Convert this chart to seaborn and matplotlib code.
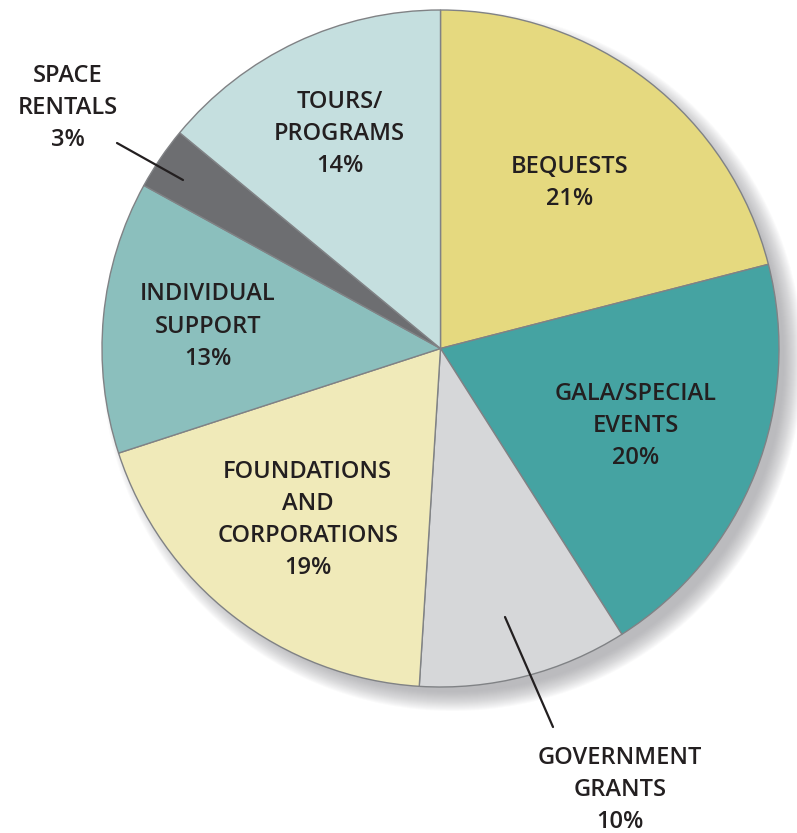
import numpy as np
import matplotlib
matplotlib.use("Agg")
import matplotlib.pyplot as plt
import seaborn as sns
from matplotlib.patches import Circle

sns.set_theme(style="white")
plt.rcParams["font.family"] = ["Open Sans", "DejaVu Sans"]

# Dados do gráfico (sentido horário a partir do topo)
categorias = ["BEQUESTS", "GALA/SPECIAL\nEVENTS", "GOVERNMENT\nGRANTS",
              "FOUNDATIONS\nAND\nCORPORATIONS", "INDIVIDUAL\nSUPPORT",
              "SPACE\nRENTALS", "TOURS/\nPROGRAMS"]
valores = [21, 20, 10, 19, 13, 3, 14]
cores = ["#E5D97F", "#45A3A2", "#D6D7D9", "#F0EAB9", "#8BBFBD", "#6D6E71", "#C5DFDF"]

# posição do rótulo: fração do raio (None = rótulo externo com linha)
dist_rotulo = [0.62, 0.62, None, 0.64, 0.69, None, 0.70]

W, H = 797, 833
fig = plt.figure(figsize=(W / 100, H / 100), dpi=100)
ax = fig.add_axes([0, 0, 1, 1])
ax.set_xlim(0, W)
ax.set_ylim(0, H)

cx, cy, R = 440.5, H - 348.5, 338.5

# Sombra suave (deslocada para baixo/direita)
for i in range(20):
    ax.add_patch(Circle((cx + 12, cy - 12), R + 12 - i, color="#8f9094",
                        alpha=0.04, lw=0, zorder=0))

wedges, _ = ax.pie(valores, colors=cores, startangle=90, counterclock=False,
                   center=(cx, cy), radius=R, frame=True,
                   wedgeprops=dict(edgecolor="#808285", linewidth=1.0))
for w in wedges:
    w.set_zorder(2)

cor_texto = "#231F20"
fs = 17
estilo = dict(ha="center", va="center", fontsize=fs, color=cor_texto,
              fontweight="semibold", linespacing=1.45, zorder=5)
for w, cat, v, d in zip(wedges, categorias, valores, dist_rotulo):
    ang = np.deg2rad((w.theta1 + w.theta2) / 2)
    if d is not None:
        ax.text(cx + d * R * np.cos(ang), cy + d * R * np.sin(ang),
                f"{cat}\n{v}%", **estilo)

# Rótulos externos com linha
ax.plot([505, 553], [H - 617, H - 727], color="#231F20", lw=1.6, zorder=5)
ax.text(620, H - 790, f"{categorias[2]}\n{valores[2]}%", **estilo)

ax.plot([183, 117], [H - 180, H - 143], color="#231F20", lw=1.6, zorder=5)
ax.text(68, H - 108, f"{categorias[5]}\n{valores[5]}%", **estilo)

ax.set_xlim(0, W)
ax.set_ylim(0, H)
ax.set_aspect("auto")
ax.axis("off")

fig.savefig("out.png", dpi=100, facecolor="white")
